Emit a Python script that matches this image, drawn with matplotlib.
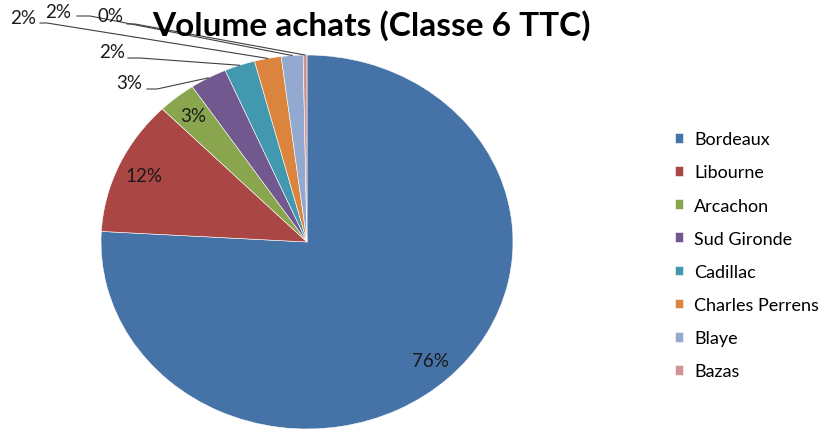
import matplotlib.pyplot as plt
import numpy as np

# data
sites = ['Bordeaux', 'Libourne', 'Arcachon', 'Sud Gironde', 'Cadillac',
         'Charles Perrens', 'Blaye', 'Bazas']
volumes = [75.9, 11.7, 3.0, 2.9, 2.4, 2.1, 1.7, 0.3]
colors = ['#4572A7', '#AA4643', '#89A54E', '#71588F', '#4198AF',
          '#DB843D', '#93A9CF', '#D19392']

W, H = 827, 431
CX, CY, RX, RY = 307, 243, 206, 187   # pie centre / radii in pixels


def px(x, y):
    # pixel (from top-left) -> data coords of the pie axes
    return (x - CX) / RX, (CY - y) / RY


fig = plt.figure(figsize=(W / 100, H / 100), dpi=100)
fig.patch.set_facecolor('white')
ax = fig.add_axes([0, 0, 1, 1])
plt.rcParams['font.family'] = ['Lato', 'DejaVu Sans']

wedges, _ = ax.pie(volumes, colors=colors, startangle=90, counterclock=False,
                   wedgeprops=dict(edgecolor='white', linewidth=0.4))
ax.set_aspect('auto')
ax.set_xlim(-CX / RX, (W - CX) / RX)
ax.set_ylim(-(H - CY) / RY, CY / RY)
ax.axis('off')

total = sum(volumes)
pcts = [f'{v / total * 100:.0f}%' for v in volumes]

# labels inside the big slices
for i in range(3):
    w = wedges[i]
    mid = np.deg2rad((w.theta1 + w.theta2) / 2)
    ax.text(0.87 * np.cos(mid), 0.87 * np.sin(mid), pcts[i], ha='center',
            va='center', fontsize=13.5, color='#1a1a1a')

# labels outside with leader lines (text centre, line start, elbow)
outside = {
    3: ((129, 84), (147, 90), (157, 90)),
    4: ((112, 53), (128, 59), (140, 59)),
    5: ((23, 19), (40, 24), (47, 24)),
    6: ((58, 13), (77, 17), (90, 17)),
    7: ((110, 17), (127, 25), (135, 25)),
}
for i, (tpos, start, elbow) in outside.items():
    w = wedges[i]
    mid = np.deg2rad((w.theta1 + w.theta2) / 2)
    ex, ey = np.cos(mid), np.sin(mid)
    sx, sy = px(*start)
    bx, by = px(*elbow)
    ax.plot([sx, bx, ex], [sy, by, ey], color='#404040', lw=0.8,
            clip_on=False)
    ax.text(*px(*tpos), pcts[i], ha='center', va='center', fontsize=13.5,
            color='#1a1a1a')

fig.text(371 / W, 1 - 26 / H, 'Volume achats (Classe 6 TTC)', ha='center',
         va='center', fontsize=24, fontweight='bold')

ax.legend(wedges, sites, loc='upper left',
          bbox_to_anchor=(668 / W, 1 - 125 / H), frameon=False,
          fontsize=13, handlelength=0.45, handleheight=0.45,
          handletextpad=0.6, labelspacing=0.95, borderaxespad=0)

fig.savefig('out.png', dpi=100)
